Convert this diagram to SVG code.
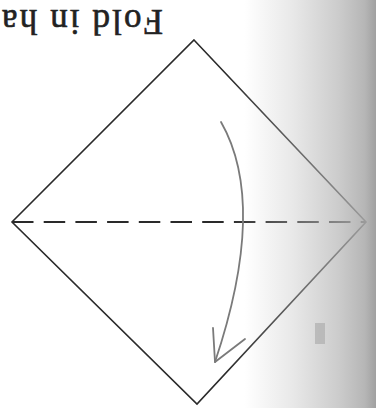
<svg xmlns="http://www.w3.org/2000/svg" width="376" height="408" viewBox="0 0 376 408">
  <defs>
    <linearGradient id="shade" x1="0" y1="0" x2="376" y2="0" gradientUnits="userSpaceOnUse">
      <stop offset="0.65" stop-color="#ffffff"/>
      <stop offset="0.78" stop-color="#e8e8e8"/>
      <stop offset="0.9" stop-color="#cccccc"/>
      <stop offset="0.97" stop-color="#b6b6b6"/>
      <stop offset="1" stop-color="#a0a0a0"/>
    </linearGradient>
    <linearGradient id="ink" x1="0" y1="0" x2="376" y2="0" gradientUnits="userSpaceOnUse">
      <stop offset="0.6" stop-color="#2a2a2a"/>
      <stop offset="0.8" stop-color="#6a6a6a"/>
      <stop offset="0.97" stop-color="#9a9a9a"/>
    </linearGradient>
    <style>
      .edge { fill: none; stroke: url(#ink); stroke-width: 1.6; stroke-linejoin: miter; }
      .valley { fill: none; stroke: url(#ink); stroke-width: 1.8; stroke-dasharray: 21.5 10.2; }
      .arrow { fill: none; stroke: #7a7a7a; stroke-width: 1.8; stroke-linecap: round; stroke-linejoin: round; }
      .label { font-family: "Liberation Serif", "Times New Roman", serif; font-size: 35px; fill: #222; stroke: #222; stroke-width: 0.6; }
    </style>
  </defs>
  <rect x="0" y="0" width="376" height="408" fill="url(#shade)"/>
  <rect x="315" y="323" width="10" height="21" fill="#b0b0b0" opacity="0.75"/>
  <g id="paper">
    <polygon class="edge" points="194,40 366,222 197,404 12,222"/>
    <line class="valley" x1="12" y1="222" x2="366" y2="222"/>
  </g>
  <g id="fold-arrow">
    <path class="arrow" d="M221,122 Q268,204 215,362"/>
    <polyline class="arrow" points="213,328 215,362 245,339"/>
  </g>
  <g id="caption">
    <text class="label" transform="translate(163,10) rotate(180)" x="0" y="0" textLength="161" lengthAdjust="spacing">Fold in ha</text>
  </g>
</svg>
